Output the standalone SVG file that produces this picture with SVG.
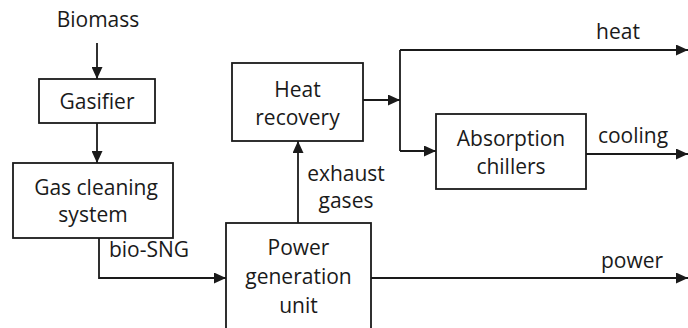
<svg xmlns="http://www.w3.org/2000/svg" width="688" height="328" viewBox="0 0 688 328">
<defs>
<marker id="ah" viewBox="0 0 12 11" refX="12" refY="5.5" markerWidth="12" markerHeight="11" markerUnits="userSpaceOnUse" orient="auto">
<path d="M0,0 L12,5.5 L0,11 Z" fill="#1a1a1a"/>
</marker>
<style>
.box{fill:#fff;stroke:#1a1a1a;stroke-width:1.8}
.ln{fill:none;stroke:#1a1a1a;stroke-width:1.8}
.ar{fill:none;stroke:#1a1a1a;stroke-width:1.8;marker-end:url(#ah)}
text{font-family:"Open Sans","Liberation Sans",sans-serif;font-size:21px;fill:#1a1a1a}
.c{text-anchor:middle}
</style>
</defs>
<rect width="688" height="328" fill="#fff"/>
<g id="connectors">
<path class="ar" d="M97,43 V79"/>
<path class="ar" d="M97,123 V163"/>
<path class="ar" d="M99,238 V278 H226"/>
<path class="ar" d="M298,223 V141"/>
<path class="ar" d="M363,100 H400"/>
<path class="ln" d="M400,50 V151"/>
<path class="ar" d="M400,50 H688"/>
<path class="ar" d="M400,151 H436"/>
<path class="ar" d="M586,154 H688"/>
<path class="ar" d="M371,278 H688"/>
</g>
<g id="labels">
<text class="c" x="98" y="27">Biomass</text>
<text class="c" x="149" y="257">bio-SNG</text>
<text class="c" x="346" y="181">exhaust</text>
<text class="c" x="346" y="208">gases</text>
<text class="c" x="618" y="39">heat</text>
<text class="c" x="633" y="143">cooling</text>
<text class="c" x="632" y="268">power</text>
</g>
<g id="gasifier">
<rect class="box" x="39" y="79" width="116" height="44"/>
<text class="c" x="97" y="109">Gasifier</text>
</g>
<g id="gas-cleaning">
<rect class="box" x="13" y="163" width="160" height="75"/>
<text class="c" x="96" y="195">Gas cleaning</text>
<text class="c" x="93" y="222">system</text>
</g>
<g id="heat-recovery">
<rect class="box" x="232" y="63" width="131" height="78"/>
<text class="c" x="297.5" y="97">Heat</text>
<text class="c" x="297.5" y="125">recovery</text>
</g>
<g id="absorption-chillers">
<rect class="box" x="436" y="114" width="150" height="75"/>
<text class="c" x="511" y="146">Absorption</text>
<text class="c" x="511" y="174">chillers</text>
</g>
<g id="power-generation">
<rect class="box" x="226" y="223" width="145" height="120"/>
<text class="c" x="298.5" y="255">Power</text>
<text class="c" x="298.5" y="284">generation</text>
<text class="c" x="298.5" y="313">unit</text>
</g>
</svg>
